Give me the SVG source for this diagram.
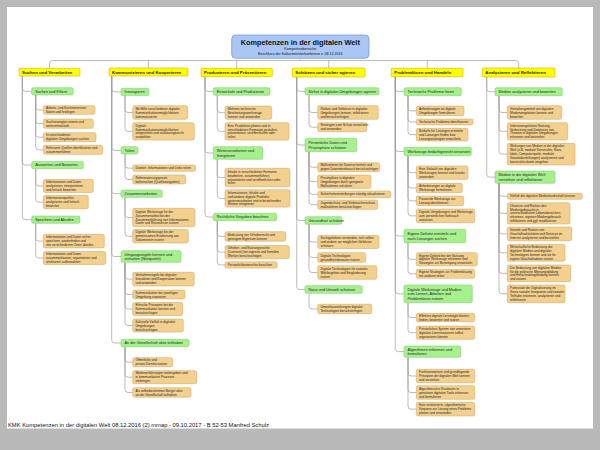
<svg xmlns="http://www.w3.org/2000/svg" width="600" height="450" viewBox="0 0 600 450">
<style>
.cn path{fill:none;stroke:#9f9f9f;stroke-width:.7}
.lf rect{fill:#F4D08E;stroke:#CDA05A;stroke-width:.5}
.lf text{font-family:"Liberation Sans",Arial,sans-serif;font-size:3.2px;fill:#222}
.sb rect{fill:#A6F08E;stroke:#78C864;stroke-width:.5}
.sb text{font-family:"Liberation Sans",Arial,sans-serif;font-size:3.8px;fill:#222}
.ct rect{fill:#FFFF00;stroke:#D9B000;stroke-width:.6}
.ct text{font-family:"Liberation Sans",Arial,sans-serif;font-size:4.4px;font-weight:bold;fill:#222}
.mt text{font-family:"Liberation Sans",Arial,sans-serif;fill:#111;text-anchor:middle}
</style>
<rect x="0" y="0" width="600" height="450" fill="#B9B9B9"/>
<rect x="7" y="7" width="586" height="421.5" fill="#FFFFFF"/>
<text x="8" y="427.4" font-family="Liberation Sans,Arial,sans-serif" font-size="5.8" fill="#111">KMK Kompetenzen in der digitalen Welt 08.12.2016 (2).mmap - 09.10.2017 - B 52-53 Manfred Schulz</text>

<g class="cn" id="connectors">
<path d="M300,58.3V60.5"/>
<path d="M49.5,68.3V63.5Q49.5,60.5 52.5,60.5H515.7Q518.7,60.5 518.7,63.5V68"/>
<path d="M148.5,60.5V68M236.7,60.5V68.3M328.7,60.5V68M427.2,60.5V68.3"/>
<path d="M22.3,76V88.35Q22.3,91.35 25.3,91.35H31.7M22.3,76V162.05Q22.3,165.05 25.3,165.05H31.7M22.3,76V216.65Q22.3,219.65 25.3,219.65H31.7"/>
<path d="M35.7,95V107Q35.7,110 38.7,110H43.3M35.7,95V120.65Q35.7,123.65 38.7,123.65H43.3M35.7,95V134.2Q35.7,137.2 38.7,137.2H43.3M35.7,95V146.8Q35.7,149.8 38.7,149.8H43.3"/>
<path d="M35.7,168.7V183Q35.7,186 38.7,186H43.3M35.7,168.7V199.15Q35.7,202.15 38.7,202.15H43.3"/>
<path d="M35.7,223.3V238.1Q35.7,241.1 38.7,241.1H43.3M35.7,223.3V255Q35.7,258 38.7,258H43.3"/>
<path d="M111.7,76V88.95Q111.7,91.95 114.7,91.95H121M111.7,76V147.35Q111.7,150.35 114.7,150.35H121M111.7,76V190.65Q111.7,193.65 114.7,193.65H121M111.7,76V253.5Q111.7,256.5 114.7,256.5H121M111.7,76V340Q111.7,343 114.7,343H121"/>
<path d="M125,95.6V109.5Q125,112.5 128,112.5H132.7M125,95.6V128.35Q125,131.35 128,131.35H132.7"/>
<path d="M125,154V165.15Q125,168.15 128,168.15H132.7M125,154V176.5Q125,179.5 128,179.5H132.7"/>
<path d="M125,197.3V214.5Q125,217.5 128,217.5H132.7M125,197.3V233.25Q125,236.25 128,236.25H132.7"/>
<path d="M125,262.3V276.15Q125,279.15 128,279.15H132.7M125,262.3V291.5Q125,294.5 128,294.5H132.7M125,262.3V306Q125,309 128,309H132.7M125,262.3V322.5Q125,325.5 128,325.5H132.7"/>
<path d="M125,346.7V359.2Q125,362.2 128,362.2H132.7M125,346.7V374.2Q125,377.2 128,377.2H132.7M125,346.7V389.45Q125,392.45 128,392.45H132.7"/>
<path d="M205,76.7V88.45Q205,91.45 208,91.45H213.3M205,76.7V150Q205,153 208,153H213.3M205,76.7V214Q205,217 208,217H213.3"/>
<path d="M217.3,95.2V109.65Q217.3,112.65 220.3,112.65H225M217.3,95.2V128.35Q217.3,131.35 220.3,131.35H225"/>
<path d="M217.3,159.3V174.5Q217.3,177.5 220.3,177.5H225M217.3,159.3V195.45Q217.3,198.45 220.3,198.45H225"/>
<path d="M217.3,220.7V233.45Q217.3,236.45 220.3,236.45H225M217.3,220.7V249.15Q217.3,252.15 220.3,252.15H225M217.3,220.7V261.95Q217.3,264.95 220.3,264.95H225"/>
<path d="M296.7,77V88.35Q296.7,91.35 299.7,91.35H305M296.7,77V142Q296.7,145 299.7,145H305M296.7,77V217.5Q296.7,220.5 299.7,220.5H305M296.7,77V286.5Q296.7,289.5 299.7,289.5H305"/>
<path d="M309,95V109.5Q309,112.5 312,112.5H317.7M309,95V124.2Q309,127.2 312,127.2H317.7"/>
<path d="M309,151.7V164.2Q309,167.2 312,167.2H317.7M309,151.7V178.65Q309,181.65 312,181.65H317.7M309,151.7V191.35Q309,194.35 312,194.35H317.7M309,151.7V201.65Q309,204.65 312,204.65H317.7"/>
<path d="M309,224.3V239Q309,242 312,242H317.7M309,224.3V254.45Q309,257.45 312,257.45H317.7M309,224.3V269.5Q309,272.5 312,272.5H317.7"/>
<path d="M309,293.3V305.95Q309,308.95 312,308.95H317.7"/>
<path d="M395.3,76.7V88.7Q395.3,91.7 398.3,91.7H404M395.3,76.7V148.5Q395.3,151.5 398.3,151.5H404M395.3,76.7V233Q395.3,236 398.3,236H404M395.3,76.7V290.85Q395.3,293.85 398.3,293.85H404M395.3,76.7V348.65Q395.3,351.65 398.3,351.65H404"/>
<path d="M408,95.7V107.85Q408,110.85 411,110.85H416.3M408,95.7V119Q408,122 411,122H416.3M408,95.7V131.65Q408,134.65 411,134.65H416.3"/>
<path d="M408,155.7V169.65Q408,172.65 411,172.65H416.3M408,155.7V185Q408,188 411,188H416.3M408,155.7V197.85Q408,200.85 411,200.85H416.3M408,155.7V212.85Q408,215.85 411,215.85H416.3"/>
<path d="M408,242.7V256.35Q408,259.35 411,259.35H416.3M408,242.7V270.8Q408,273.8 411,273.8H416.3"/>
<path d="M408,302.7V314.5Q408,317.5 411,317.5H416.3M408,302.7V329.65Q408,332.65 411,332.65H416.3"/>
<path d="M408,357.3V373Q408,376 411,376H416.3M408,357.3V389.5Q408,392.5 411,392.5H416.3M408,357.3V406.15Q408,409.15 411,409.15H416.3"/>
<path d="M486.7,77V88.7Q486.7,91.7 489.7,91.7H495M486.7,77V174.15Q486.7,177.15 489.7,177.15H495"/>
<path d="M499,95.7V109.5Q499,112.5 502,112.5H507.3M499,95.7V128.35Q499,131.35 502,131.35H507.3M499,95.7V151.15Q499,154.15 502,154.15H507.3"/>
<path d="M499,183.3V193.3Q499,196.3 502,196.3H507.3M499,183.3V210.35Q499,213.35 502,213.35H507.3M499,183.3V230.9Q499,233.9 502,233.9H507.3M499,183.3V249.85Q499,252.85 502,252.85H507.3M499,183.3V270.35Q499,273.35 502,273.35H507.3M499,183.3V290.85Q499,293.85 502,293.85H507.3"/>
</g>

<g id="root" class="mt">
<rect x="231.7" y="35" width="137.3" height="23.3" rx="4" fill="#A9C6F4" stroke="#6F92D4" stroke-width=".7"/>
<text x="300.3" y="44.5" font-size="7.3" font-weight="bold">Kompetenzen in der digitalen Welt</text>
<text x="300.3" y="49.8" font-size="3.6">Kompetenzbereiche</text>
<text x="300.3" y="54.6" font-size="3.6">Beschluss der Kultusministerkonferenz v. 08.12.2016</text>
</g>

<!-- Column 1 -->
<g id="k1" class="ct"><rect x="19" y="68.3" width="61" height="7.7" rx=".8"/><text x="22" y="73.7">Suchen und Verarbeiten</text></g>
<g id="k1-1" class="sb"><rect x="31.7" y="87.7" width="41.6" height="7.3" rx="1.5"/><text x="35.2" y="92.68">Suchen und Filtern</text></g>
<g id="k1-1-1" class="lf"><rect x="43.3" y="105.7" width="51.7" height="8.6" rx="1.8"/><text><tspan x="46" y="109.17">Arbeits- und Suchinteressen</tspan><tspan x="46" y="113.07">klären und festlegen</tspan></text></g>
<g id="k1-1-2" class="lf"><rect x="43.3" y="119" width="50" height="9.3" rx="1.8"/><text><tspan x="46" y="122.82">Suchstrategien nutzen und</tspan><tspan x="46" y="126.72">weiterentwickeln</tspan></text></g>
<g id="k1-1-3" class="lf"><rect x="43.3" y="132.7" width="52.7" height="9" rx="1.8"/><text><tspan x="46" y="136.37">In verschiedenen</tspan><tspan x="46" y="140.27">digitalen Umgebungen suchen</tspan></text></g>
<g id="k1-1-4" class="lf"><rect x="43.3" y="145.3" width="59.4" height="9" rx="1.8"/><text><tspan x="46" y="148.97">Relevante Quellen identifizieren und</tspan><tspan x="46" y="152.87">zusammenführen</tspan></text></g>
<g id="k1-2" class="sb"><rect x="31.7" y="161.4" width="51.6" height="7.3" rx="1.5"/><text x="35.2" y="166.38">Auswerten und Bewerten</text></g>
<g id="k1-2-1" class="lf"><rect x="43.3" y="179.5" width="50" height="13" rx="1.8"/><text><tspan x="46" y="183.22">Informationen und Daten</tspan><tspan x="46" y="187.12">analysieren, interpretieren</tspan><tspan x="46" y="191.02">und kritisch bewerten</tspan></text></g>
<g id="k1-2-2" class="lf"><rect x="43.3" y="195.5" width="45" height="13.3" rx="1.8"/><text><tspan x="46" y="199.37">Informationsquellen</tspan><tspan x="46" y="203.27">analysieren und kritisch</tspan><tspan x="46" y="207.17">bewerten</tspan></text></g>
<g id="k1-3" class="sb"><rect x="31.7" y="216" width="48.3" height="7.3" rx="1.5"/><text x="35.2" y="220.98">Speichern und Abrufen</text></g>
<g id="k1-3-1" class="lf"><rect x="43.3" y="234.3" width="61" height="13.6" rx="1.8"/><text><tspan x="46" y="238.32">Informationen und Daten sicher</tspan><tspan x="46" y="242.22">speichern, wiederfinden und</tspan><tspan x="46" y="246.12">von verschiedenen Orten abrufen</tspan></text></g>
<g id="k1-3-2" class="lf"><rect x="43.3" y="251.5" width="62.4" height="13" rx="1.8"/><text><tspan x="46" y="255.22">Informationen und Daten</tspan><tspan x="46" y="259.12">zusammenfassen, organisieren und</tspan><tspan x="46" y="263.02">strukturiert aufbewahren</tspan></text></g>

<!-- Column 2 -->
<g id="k2" class="ct"><rect x="109" y="68" width="79" height="8" rx=".8"/><text x="112" y="73.55">Kommunizieren und Kooperieren</text></g>
<g id="k2-1" class="sb"><rect x="121" y="88.3" width="28" height="7.3" rx="1.5"/><text x="124.5" y="93.28">Interagieren</text></g>
<g id="k2-1-1" class="lf"><rect x="132.7" y="105.7" width="55" height="13.6" rx="1.8"/><text><tspan x="135.4" y="109.72">Mit Hilfe verschiedener digitaler</tspan><tspan x="135.4" y="113.62">Kommunikationsmöglichkeiten</tspan><tspan x="135.4" y="117.52">kommunizieren</tspan></text></g>
<g id="k2-1-2" class="lf"><rect x="132.7" y="122.7" width="61.6" height="17.3" rx="1.8"/><text><tspan x="135.4" y="126.62">Digitale</tspan><tspan x="135.4" y="130.52">Kommunikationsmöglichkeiten</tspan><tspan x="135.4" y="134.42">zielgerichtet und situationsgerecht</tspan><tspan x="135.4" y="138.32">auswählen</tspan></text></g>
<g id="k2-2" class="sb"><rect x="121" y="146.7" width="17" height="7.3" rx="1.5"/><text x="124.5" y="151.68">Teilen</text></g>
<g id="k2-2-1" class="lf"><rect x="132.7" y="165" width="63" height="6.3" rx="1.8"/><text><tspan x="135.4" y="169.27">Dateien, Informationen und Links teilen</tspan></text></g>
<g id="k2-2-2" class="lf"><rect x="132.7" y="175" width="53" height="9" rx="1.8"/><text><tspan x="135.4" y="178.67">Referenzierungspraxis</tspan><tspan x="135.4" y="182.57">beherrschen (Quellenangaben)</tspan></text></g>
<g id="k2-3" class="sb"><rect x="121" y="190" width="41.3" height="7.3" rx="1.5"/><text x="124.5" y="194.98">Zusammenarbeiten</text></g>
<g id="k2-3-1" class="lf"><rect x="132.7" y="208.3" width="62.3" height="18.4" rx="1.8"/><text><tspan x="135.4" y="212.77">Digitale Werkzeuge für die</tspan><tspan x="135.4" y="216.67">Zusammenarbeit bei der</tspan><tspan x="135.4" y="220.57">Zusammenführung von Informationen,</tspan><tspan x="135.4" y="224.47">Daten und Ressourcen nutzen</tspan></text></g>
<g id="k2-3-2" class="lf"><rect x="132.7" y="229.5" width="55.6" height="13.5" rx="1.8"/><text><tspan x="135.4" y="233.47">Digitale Werkzeuge bei der</tspan><tspan x="135.4" y="237.37">gemeinsamen Erarbeitung von</tspan><tspan x="135.4" y="241.27">Dokumenten nutzen</tspan></text></g>
<g id="k2-4" class="sb"><rect x="121" y="250.7" width="60" height="11.6" rx="1.5"/><text><tspan x="124.5" y="255.63">Umgangsregeln kennen und</tspan><tspan x="124.5" y="260.03">einhalten (Netiquette)</tspan></text></g>
<g id="k2-4-1" class="lf"><rect x="132.7" y="272.3" width="61.6" height="13.7" rx="1.8"/><text><tspan x="135.4" y="276.37">Verhaltensregeln bei digitaler</tspan><tspan x="135.4" y="280.27">Interaktion und Kooperation kennen</tspan><tspan x="135.4" y="284.17">und anwenden</tspan></text></g>
<g id="k2-4-2" class="lf"><rect x="132.7" y="290" width="52.3" height="9" rx="1.8"/><text><tspan x="135.4" y="293.67">Kommunikation der jeweiligen</tspan><tspan x="135.4" y="297.57">Umgebung anpassen</tspan></text></g>
<g id="k2-4-3" class="lf"><rect x="132.7" y="302.5" width="50" height="13" rx="1.8"/><text><tspan x="135.4" y="306.22">Ethische Prinzipien bei der</tspan><tspan x="135.4" y="310.12">Kommunikation kennen und</tspan><tspan x="135.4" y="314.02">berücksichtigen</tspan></text></g>
<g id="k2-4-4" class="lf"><rect x="132.7" y="319" width="50.6" height="13" rx="1.8"/><text><tspan x="135.4" y="322.72">Kulturelle Vielfalt in digitalen</tspan><tspan x="135.4" y="326.62">Umgebungen</tspan><tspan x="135.4" y="330.52">berücksichtigen</tspan></text></g>
<g id="k2-5" class="sb"><rect x="121" y="339.3" width="68" height="7.4" rx="1.5"/><text x="124.5" y="344.33">An der Gesellschaft aktiv teilhaben</text></g>
<g id="k2-5-1" class="lf"><rect x="132.7" y="357.7" width="40" height="9" rx="1.8"/><text><tspan x="135.4" y="361.37">Öffentliche und</tspan><tspan x="135.4" y="365.27">private Dienste nutzen</tspan></text></g>
<g id="k2-5-2" class="lf"><rect x="132.7" y="370.7" width="64" height="13" rx="1.8"/><text><tspan x="135.4" y="374.42">Medienerfahrungen weitergeben und</tspan><tspan x="135.4" y="378.32">in kommunikative Prozesse</tspan><tspan x="135.4" y="382.22">einbringen</tspan></text></g>
<g id="k2-5-3" class="lf"><rect x="132.7" y="387.7" width="58.3" height="9.5" rx="1.8"/><text><tspan x="135.4" y="391.62">Als selbstbestimmter Bürger aktiv</tspan><tspan x="135.4" y="395.52">an der Gesellschaft teilhaben</tspan></text></g>

<!-- Column 3 -->
<g id="k3" class="ct"><rect x="201" y="68.3" width="71.3" height="8.4" rx=".8"/><text x="204" y="74.05">Produzieren und Präsentieren</text></g>
<g id="k3-1" class="sb"><rect x="213.3" y="87.7" width="56.7" height="7.5" rx="1.5"/><text x="216.8" y="92.78">Entwickeln und Produzieren</text></g>
<g id="k3-1-1" class="lf"><rect x="225" y="106" width="46.7" height="13.3" rx="1.8"/><text><tspan x="227.7" y="109.87">Mehrere technische</tspan><tspan x="227.7" y="113.77">Bearbeitungswerkzeuge</tspan><tspan x="227.7" y="117.67">kennen und anwenden</tspan></text></g>
<g id="k3-1-2" class="lf"><rect x="225" y="122.7" width="64" height="17.3" rx="1.8"/><text><tspan x="227.7" y="126.62">Eine Produktion planen und in</tspan><tspan x="227.7" y="130.52">verschiedenen Formaten gestalten,</tspan><tspan x="227.7" y="134.42">präsentieren, veröffentlichen oder</tspan><tspan x="227.7" y="138.32">teilen</tspan></text></g>
<g id="k3-2" class="sb"><rect x="213.3" y="146.7" width="49.4" height="12.6" rx="1.5"/><text><tspan x="216.8" y="152.13">Weiterverarbeiten und</tspan><tspan x="216.8" y="156.53">Integrieren</tspan></text></g>
<g id="k3-2-1" class="lf"><rect x="225" y="168.3" width="65" height="18.4" rx="1.8"/><text><tspan x="227.7" y="172.77">Inhalte in verschiedenen Formaten</tspan><tspan x="227.7" y="176.67">bearbeiten, zusammenführen,</tspan><tspan x="227.7" y="180.57">präsentieren und veröffentlichen oder</tspan><tspan x="227.7" y="184.47">teilen</tspan></text></g>
<g id="k3-2-2" class="lf"><rect x="225" y="189.8" width="65" height="17.3" rx="1.8"/><text><tspan x="227.7" y="193.72">Informationen, Inhalte und</tspan><tspan x="227.7" y="197.62">vorhandene digitale Produkte</tspan><tspan x="227.7" y="201.52">weiterverarbeiten und in bestehendes</tspan><tspan x="227.7" y="205.42">Wissen integrieren</tspan></text></g>
<g id="k3-3" class="sb"><rect x="213.3" y="213.3" width="63.4" height="7.4" rx="1.5"/><text x="216.8" y="218.33">Rechtliche Vorgaben beachten</text></g>
<g id="k3-3-1" class="lf"><rect x="225" y="231.7" width="60.7" height="9.5" rx="1.8"/><text><tspan x="227.7" y="235.62">Bedeutung von Urheberrecht und</tspan><tspan x="227.7" y="239.52">geistigem Eigentum kennen</tspan></text></g>
<g id="k3-3-2" class="lf"><rect x="225" y="245.5" width="64.3" height="13.3" rx="1.8"/><text><tspan x="227.7" y="249.37">Urheber- und Nutzungsrechte</tspan><tspan x="227.7" y="253.27">(Lizenzen) bei eigenen und fremden</tspan><tspan x="227.7" y="257.17">Werken berücksichtigen</tspan></text></g>
<g id="k3-3-3" class="lf"><rect x="225" y="261.8" width="52.3" height="6.3" rx="1.8"/><text><tspan x="227.7" y="266.07">Persönlichkeitsrechte beachten</tspan></text></g>

<!-- Column 4 -->
<g id="k4" class="ct"><rect x="292.3" y="68" width="72.7" height="9" rx=".8"/><text x="295.3" y="74.05">Schützen und sicher agieren</text></g>
<g id="k4-1" class="sb"><rect x="305" y="87.7" width="74" height="7.3" rx="1.5"/><text x="308.5" y="92.68">Sicher in digitalen Umgebungen agieren</text></g>
<g id="k4-1-1" class="lf"><rect x="317.7" y="105.7" width="60.6" height="13.6" rx="1.8"/><text><tspan x="320.4" y="109.72">Risiken und Gefahren in digitalen</tspan><tspan x="320.4" y="113.62">Umgebungen kennen, reflektieren</tspan><tspan x="320.4" y="117.52">und berücksichtigen</tspan></text></g>
<g id="k4-1-2" class="lf"><rect x="317.7" y="122.7" width="49" height="9" rx="1.8"/><text><tspan x="320.4" y="126.37">Strategien zum Schutz entwickeln</tspan><tspan x="320.4" y="130.27">und anwenden</tspan></text></g>
<g id="k4-2" class="sb"><rect x="305" y="138.3" width="51.7" height="13.4" rx="1.5"/><text><tspan x="308.5" y="144.13">Persönliche Daten und</tspan><tspan x="308.5" y="148.53">Privatsphäre schützen</tspan></text></g>
<g id="k4-2-1" class="lf"><rect x="317.7" y="162.7" width="62" height="9" rx="1.8"/><text><tspan x="320.4" y="166.37">Maßnahmen für Datensicherheit und</tspan><tspan x="320.4" y="170.27">gegen Datenmissbrauch berücksichtigen</tspan></text></g>
<g id="k4-2-2" class="lf"><rect x="317.7" y="175" width="53.3" height="13.3" rx="1.8"/><text><tspan x="320.4" y="178.87">Privatsphäre in digitalen</tspan><tspan x="320.4" y="182.77">Umgebungen durch geeignete</tspan><tspan x="320.4" y="186.67">Maßnahmen schützen</tspan></text></g>
<g id="k4-2-3" class="lf"><rect x="317.7" y="191" width="73" height="6.7" rx="1.8"/><text><tspan x="320.4" y="195.47">Sicherheitseinstellungen ständig aktualisieren</tspan></text></g>
<g id="k4-2-4" class="lf"><rect x="317.7" y="200" width="60" height="9.3" rx="1.8"/><text><tspan x="320.4" y="203.82">Jugendschutz- und Verbraucherschutz-</tspan><tspan x="320.4" y="207.72">maßnahmen berücksichtigen</tspan></text></g>
<g id="k4-3" class="sb"><rect x="305" y="216.7" width="36.7" height="7.6" rx="1.5"/><text x="308.5" y="221.83">Gesundheit schützen</text></g>
<g id="k4-3-1" class="lf"><rect x="317.7" y="235.5" width="61.3" height="13" rx="1.8"/><text><tspan x="320.4" y="239.22">Suchtgefahren vermeiden, sich selbst</tspan><tspan x="320.4" y="243.12">und andere vor möglichen Gefahren</tspan><tspan x="320.4" y="247.02">schützen</tspan></text></g>
<g id="k4-3-2" class="lf"><rect x="317.7" y="252.7" width="48" height="9.5" rx="1.8"/><text><tspan x="320.4" y="256.62">Digitale Technologien</tspan><tspan x="320.4" y="260.52">gesundheitsbewusst nutzen</tspan></text></g>
<g id="k4-3-3" class="lf"><rect x="317.7" y="265.7" width="59" height="13.6" rx="1.8"/><text><tspan x="320.4" y="269.72">Digitale Technologien für soziales</tspan><tspan x="320.4" y="273.62">Wohlergehen und Eingliederung</tspan><tspan x="320.4" y="277.52">nutzen</tspan></text></g>
<g id="k4-4" class="sb"><rect x="305" y="285.7" width="57.3" height="7.6" rx="1.5"/><text x="308.5" y="290.83">Natur und Umwelt schützen</text></g>
<g id="k4-4-1" class="lf"><rect x="317.7" y="304.2" width="54" height="9.5" rx="1.8"/><text><tspan x="320.4" y="308.12">Umweltauswirkungen digitaler</tspan><tspan x="320.4" y="312.02">Technologien berücksichtigen</tspan></text></g>

<!-- Column 5 -->
<g id="k5" class="ct"><rect x="391.3" y="68.3" width="71.7" height="8.4" rx=".8"/><text x="394.3" y="74.05">Problemlösen und Handeln</text></g>
<g id="k5-1" class="sb"><rect x="404" y="87.7" width="57.3" height="8" rx="1.5"/><text x="407.5" y="93.03">Technische Probleme lösen</text></g>
<g id="k5-1-1" class="lf"><rect x="416.3" y="106" width="47.7" height="9.7" rx="1.8"/><text><tspan x="419" y="110.02">Anforderungen an digitale</tspan><tspan x="419" y="113.92">Umgebungen formulieren</tspan></text></g>
<g id="k5-1-2" class="lf"><rect x="416.3" y="119" width="56.7" height="6" rx="1.8"/><text><tspan x="419" y="123.12">Technische Probleme identifizieren</tspan></text></g>
<g id="k5-1-3" class="lf"><rect x="416.3" y="128.3" width="51.7" height="12.7" rx="1.8"/><text><tspan x="419" y="131.87">Bedarfe für Lösungen ermitteln</tspan><tspan x="419" y="135.77">und Lösungen finden bzw.</tspan><tspan x="419" y="139.67">Lösungsstrategien entwickeln</tspan></text></g>
<g id="k5-2" class="sb"><rect x="404" y="147.3" width="67.3" height="8.4" rx="1.5"/><text x="407.5" y="152.83">Werkzeuge bedarfsgerecht einsetzen</text></g>
<g id="k5-2-1" class="lf"><rect x="416.3" y="166" width="51.7" height="13.3" rx="1.8"/><text><tspan x="419" y="169.87">Eine Vielzahl von digitalen</tspan><tspan x="419" y="173.77">Werkzeugen kennen und kreativ</tspan><tspan x="419" y="177.67">anwenden</tspan></text></g>
<g id="k5-2-2" class="lf"><rect x="416.3" y="183.3" width="46" height="9.4" rx="1.8"/><text><tspan x="419" y="187.17">Anforderungen an digitale</tspan><tspan x="419" y="191.07">Werkzeuge formulieren</tspan></text></g>
<g id="k5-2-3" class="lf"><rect x="416.3" y="196" width="47.4" height="9.7" rx="1.8"/><text><tspan x="419" y="200.02">Passende Werkzeuge zur</tspan><tspan x="419" y="203.92">Lösung identifizieren</tspan></text></g>
<g id="k5-2-4" class="lf"><rect x="416.3" y="209" width="58.4" height="13.7" rx="1.8"/><text><tspan x="419" y="213.07">Digitale Umgebungen und Werkzeuge</tspan><tspan x="419" y="216.97">zum persönlichen Gebrauch</tspan><tspan x="419" y="220.87">anpassen</tspan></text></g>
<g id="k5-3" class="sb"><rect x="404" y="229.3" width="61.7" height="13.4" rx="1.5"/><text><tspan x="407.5" y="235.13">Eigene Defizite ermitteln und</tspan><tspan x="407.5" y="239.53">nach Lösungen suchen</tspan></text></g>
<g id="k5-3-1" class="lf"><rect x="416.3" y="252.7" width="61" height="13.3" rx="1.8"/><text><tspan x="419" y="256.57">Eigene Defizite bei der Nutzung</tspan><tspan x="419" y="260.47">digitaler Werkzeuge erkennen und</tspan><tspan x="419" y="264.37">Strategien zur Beseitigung entwickeln</tspan></text></g>
<g id="k5-3-2" class="lf"><rect x="416.3" y="269.3" width="58.4" height="9" rx="1.8"/><text><tspan x="419" y="272.97">Eigene Strategien zur Problemlösung</tspan><tspan x="419" y="276.87">mit anderen teilen</tspan></text></g>
<g id="k5-4" class="sb"><rect x="404" y="285" width="68.3" height="17.7" rx="1.5"/><text><tspan x="407.5" y="290.78">Digitale Werkzeuge und Medien</tspan><tspan x="407.5" y="295.18">zum Lernen, Arbeiten und</tspan><tspan x="407.5" y="299.58">Problemlösen nutzen</tspan></text></g>
<g id="k5-4-1" class="lf"><rect x="416.3" y="313.3" width="58.4" height="8.4" rx="1.8"/><text><tspan x="419" y="316.67">Effektive digitale Lernmöglichkeiten</tspan><tspan x="419" y="320.57">finden, bewerten und nutzen</tspan></text></g>
<g id="k5-4-2" class="lf"><rect x="416.3" y="326" width="58.4" height="13.3" rx="1.8"/><text><tspan x="419" y="329.87">Persönliches System von vernetzten</tspan><tspan x="419" y="333.77">digitalen Lernressourcen selbst</tspan><tspan x="419" y="337.67">organisieren können</tspan></text></g>
<g id="k5-5" class="sb"><rect x="404" y="346" width="56.7" height="11.3" rx="1.5"/><text><tspan x="407.5" y="350.78">Algorithmen erkennen und</tspan><tspan x="407.5" y="355.18">formulieren</tspan></text></g>
<g id="k5-5-1" class="lf"><rect x="416.3" y="369.3" width="58.4" height="13.4" rx="1.8"/><text><tspan x="419" y="373.22">Funktionsweisen und grundlegende</tspan><tspan x="419" y="377.12">Prinzipien der digitalen Welt kennen</tspan><tspan x="419" y="381.02">und verstehen</tspan></text></g>
<g id="k5-5-2" class="lf"><rect x="416.3" y="385.7" width="58.4" height="13.6" rx="1.8"/><text><tspan x="419" y="389.72">Algorithmische Strukturen in</tspan><tspan x="419" y="393.62">genutzten digitalen Tools erkennen</tspan><tspan x="419" y="397.52">und formulieren</tspan></text></g>
<g id="k5-5-3" class="lf"><rect x="416.3" y="402.3" width="58.4" height="13.7" rx="1.8"/><text><tspan x="419" y="406.37">Eine strukturierte, algorithmische</tspan><tspan x="419" y="410.27">Sequenz zur Lösung eines Problems</tspan><tspan x="419" y="414.17">planen und verwenden</tspan></text></g>

<!-- Column 6 -->
<g id="k6" class="ct"><rect x="482.3" y="68" width="72.7" height="9" rx=".8"/><text x="485.3" y="74.05">Analysieren und Reflektieren</text></g>
<g id="k6-1" class="sb"><rect x="495" y="87.7" width="67.3" height="8" rx="1.5"/><text x="498.5" y="93.03">Medien analysieren und bewerten</text></g>
<g id="k6-1-1" class="lf"><rect x="507.3" y="105.7" width="54.4" height="13.6" rx="1.8"/><text><tspan x="510" y="109.72">Gestaltungsmittel von digitalen</tspan><tspan x="510" y="113.62">Medienangeboten kennen und</tspan><tspan x="510" y="117.52">bewerten</tspan></text></g>
<g id="k6-1-2" class="lf"><rect x="507.3" y="122.7" width="60.4" height="17.3" rx="1.8"/><text><tspan x="510" y="126.62">Interessengeleitete Setzung,</tspan><tspan x="510" y="130.52">Verbreitung und Dominanz von</tspan><tspan x="510" y="134.42">Themen in digitalen Umgebungen</tspan><tspan x="510" y="138.32">erkennen und beurteilen</tspan></text></g>
<g id="k6-1-3" class="lf"><rect x="507.3" y="143.3" width="67.7" height="21.7" rx="1.8"/><text><tspan x="510" y="147.47">Wirkungen von Medien in der digitalen</tspan><tspan x="510" y="151.37">Welt (z.B. mediale Konstrukte, Stars,</tspan><tspan x="510" y="155.27">Idole, Computerspiele, mediale</tspan><tspan x="510" y="159.17">Gewaltdarstellungen) analysieren und</tspan><tspan x="510" y="163.07">konstruktiv damit umgehen</tspan></text></g>
<g id="k6-2" class="sb"><rect x="495" y="171" width="60" height="12.3" rx="1.5"/><text><tspan x="498.5" y="176.28">Medien in der digitalen Welt</tspan><tspan x="498.5" y="180.68">verstehen und reflektieren</tspan></text></g>
<g id="k6-2-1" class="lf"><rect x="507.3" y="193.3" width="75" height="6" rx="1.8"/><text><tspan x="510" y="197.42">Vielfalt der digitalen Medienlandschaft kennen</tspan></text></g>
<g id="k6-2-2" class="lf"><rect x="507.3" y="202.7" width="62.7" height="21.3" rx="1.8"/><text><tspan x="510" y="206.67">Chancen und Risiken des</tspan><tspan x="510" y="210.57">Mediengebrauchs in</tspan><tspan x="510" y="214.47">unterschiedlichen Lebensbereichen</tspan><tspan x="510" y="218.37">erkennen, eigenen Mediengebrauch</tspan><tspan x="510" y="222.27">reflektieren und ggf. modifizieren</tspan></text></g>
<g id="k6-2-3" class="lf"><rect x="507.3" y="227" width="64.4" height="13.8" rx="1.8"/><text><tspan x="510" y="231.12">Vorteile und Risiken von</tspan><tspan x="510" y="235.02">Geschäftsaktivitäten und Services im</tspan><tspan x="510" y="238.92">Internet analysieren und beurteilen</tspan></text></g>
<g id="k6-2-4" class="lf"><rect x="507.3" y="244.5" width="57.7" height="16.7" rx="1.8"/><text><tspan x="510" y="248.12">Wirtschaftliche Bedeutung der</tspan><tspan x="510" y="252.02">digitalen Medien und digitaler</tspan><tspan x="510" y="255.92">Technologien kennen und sie für</tspan><tspan x="510" y="259.82">eigene Geschäftsideen nutzen</tspan></text></g>
<g id="k6-2-5" class="lf"><rect x="507.3" y="265" width="63.4" height="16.7" rx="1.8"/><text><tspan x="510" y="268.62">Die Bedeutung von digitalen Medien</tspan><tspan x="510" y="272.52">für die politische Meinungsbildung</tspan><tspan x="510" y="276.42">und Entscheidungsfindung kennen</tspan><tspan x="510" y="280.32">und nutzen</tspan></text></g>
<g id="k6-2-6" class="lf"><rect x="507.3" y="285" width="57.7" height="17.7" rx="1.8"/><text><tspan x="510" y="289.12">Potenziale der Digitalisierung im</tspan><tspan x="510" y="293.02">Sinne sozialer Integration und sozialer</tspan><tspan x="510" y="296.92">Teilhabe erkennen, analysieren und</tspan><tspan x="510" y="300.82">reflektieren</tspan></text></g>
</svg>
